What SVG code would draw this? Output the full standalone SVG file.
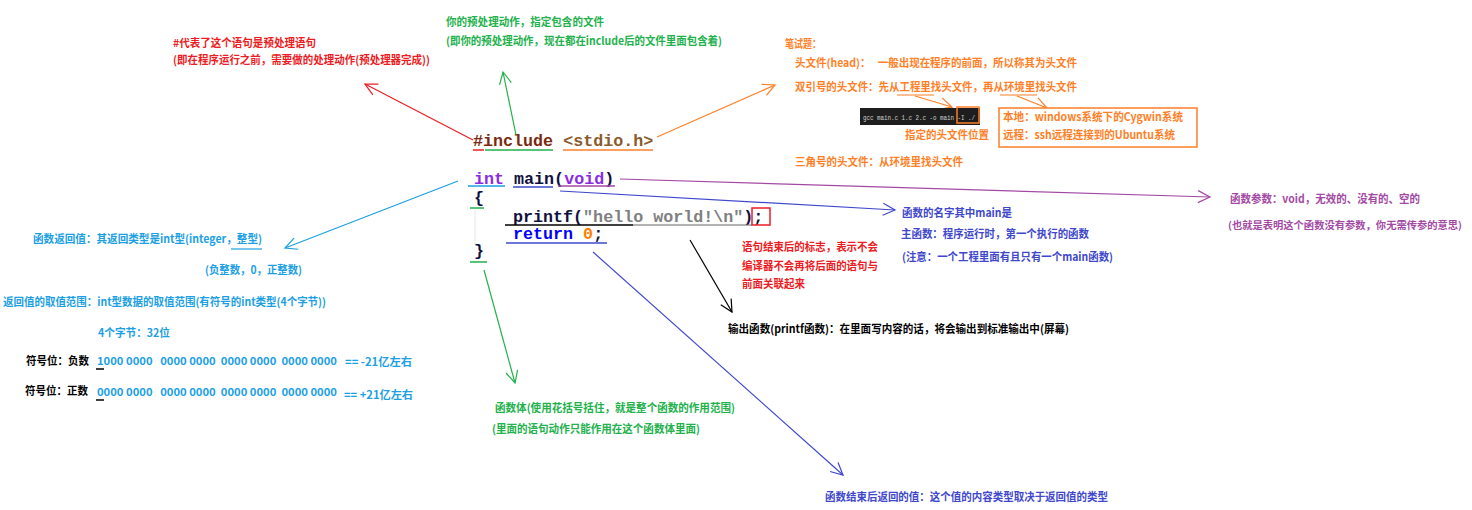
<svg xmlns="http://www.w3.org/2000/svg" width="1472" height="510" viewBox="0 0 1472 510">
<style>
.t{font-family:"Noto Sans CJK SC","Microsoft YaHei",sans-serif;font-size:11px;font-weight:bold}
.c{font-family:"Liberation Mono","Courier New",monospace;font-size:16.7px;font-weight:bold}
.red{fill:#ed1c24}.org{fill:#ff7f27}.grn{fill:#22b14c}.cyn{fill:#1ca0e3}.ind{fill:#3f48cc}.pur{fill:#a349a4}.blk{fill:#000}
.ln{fill:none;stroke-width:1.2}
</style>
<defs>
<marker id="mr" markerUnits="userSpaceOnUse" markerWidth="16" markerHeight="16" refX="13" refY="7" orient="auto"><path d="M1,1 L13,7 L1,13" fill="none" stroke="#ed1c24" stroke-width="1.2"/></marker>
<marker id="mg" markerUnits="userSpaceOnUse" markerWidth="16" markerHeight="16" refX="13" refY="7" orient="auto"><path d="M1,1 L13,7 L1,13" fill="none" stroke="#22b14c" stroke-width="1.2"/></marker>
<marker id="mo" markerUnits="userSpaceOnUse" markerWidth="16" markerHeight="16" refX="13" refY="7" orient="auto"><path d="M1,1 L13,7 L1,13" fill="none" stroke="#ff7f27" stroke-width="1.2"/></marker>
<marker id="mc" markerUnits="userSpaceOnUse" markerWidth="16" markerHeight="16" refX="13" refY="7" orient="auto"><path d="M1,1 L13,7 L1,13" fill="none" stroke="#1ca0e3" stroke-width="1.2"/></marker>
<marker id="mi" markerUnits="userSpaceOnUse" markerWidth="16" markerHeight="16" refX="13" refY="7" orient="auto"><path d="M1,1 L13,7 L1,13" fill="none" stroke="#3f48cc" stroke-width="1.2"/></marker>
<marker id="mp" markerUnits="userSpaceOnUse" markerWidth="16" markerHeight="16" refX="13" refY="7" orient="auto"><path d="M1,1 L13,7 L1,13" fill="none" stroke="#a349a4" stroke-width="1.2"/></marker>
<marker id="mk" markerUnits="userSpaceOnUse" markerWidth="16" markerHeight="16" refX="13" refY="7" orient="auto"><path d="M1,1 L13,7 L1,13" fill="none" stroke="#000" stroke-width="1.2"/></marker>
</defs>
<rect width="1472" height="510" fill="#fff"/>

<g id="code">
<text class="c" x="473" y="146"><tspan fill="#7a2a10">#include</tspan> <tspan fill="#8b5a2b">&lt;stdio.h&gt;</tspan></text>
<line x1="473" y1="150" x2="484" y2="150" stroke="#ed1c24" stroke-width="1.5"/>
<line x1="485" y1="150" x2="553" y2="150" stroke="#22b14c" stroke-width="1.5"/>
<line x1="563" y1="150" x2="653" y2="150" stroke="#ff7f27" stroke-width="1.5"/>
<text class="c" x="474" y="184" xml:space="preserve"><tspan fill="#8a2be2">int</tspan> <tspan fill="#101040">main(</tspan><tspan fill="#8a2be2">void</tspan><tspan fill="#101040">)</tspan></text>
<line x1="468" y1="186" x2="505" y2="186" stroke="#1ca0e3" stroke-width="1.5"/>
<line x1="513" y1="187" x2="553" y2="187" stroke="#3f48cc" stroke-width="1.5"/>
<line x1="558" y1="186" x2="615" y2="186" stroke="#a349a4" stroke-width="1.5"/>
<text class="c" x="474" y="203" fill="#101040">{</text>
<line x1="470" y1="208" x2="484" y2="208" stroke="#22b14c" stroke-width="1.5"/>
<line x1="475" y1="210" x2="475" y2="245" stroke="#e6e6e6" stroke-width="1"/>
<text class="c" x="513" y="222"><tspan fill="#101040">printf(</tspan><tspan fill="#808080">"hello world!\n"</tspan><tspan fill="#101040">);</tspan></text>
<rect x="752" y="208" width="18" height="17" fill="none" stroke="#ed1c24" stroke-width="1.5"/>
<line x1="505" y1="225" x2="633" y2="225" stroke="#000" stroke-width="1.5"/>
<line x1="633" y1="225" x2="752" y2="225" stroke="#666" stroke-width="1"/>
<text class="c" x="513" y="239"><tspan fill="#0000ff">return</tspan> <tspan fill="#ff8000">0</tspan><tspan fill="#101040">;</tspan></text>
<line x1="506" y1="243" x2="607" y2="243" stroke="#3f48cc" stroke-width="1.5"/>
<text class="c" x="474" y="256" fill="#101040">}</text>
<line x1="470" y1="262" x2="487" y2="262" stroke="#22b14c" stroke-width="1.5"/>
</g>

<g id="connectors">
<line class="ln" x1="473" y1="140" x2="365" y2="84" stroke="#ed1c24" marker-end="url(#mr)"/>
<line class="ln" x1="516" y1="135" x2="503" y2="72" stroke="#22b14c" marker-end="url(#mg)"/>
<line class="ln" x1="657" y1="137" x2="775" y2="85" stroke="#ff7f27" marker-end="url(#mo)"/>
<line class="ln" x1="915" y1="96" x2="952" y2="107" stroke="#ff7f27" marker-end="url(#mo)"/>
<line class="ln" x1="1017" y1="96" x2="1047" y2="108" stroke="#ff7f27" marker-end="url(#mo)"/>
<line class="ln" x1="458" y1="181" x2="285" y2="248" stroke="#1ca0e3" marker-end="url(#mc)"/>
<line class="ln" x1="620" y1="179" x2="1210" y2="197" stroke="#a349a4" marker-end="url(#mp)"/>
<line class="ln" x1="560" y1="191" x2="895" y2="210" stroke="#3f48cc" marker-end="url(#mi)"/>
<line class="ln" x1="690" y1="240" x2="732" y2="312" stroke="#000" marker-end="url(#mk)"/>
<line class="ln" x1="484" y1="270" x2="515" y2="383" stroke="#22b14c" marker-end="url(#mg)"/>
<line class="ln" x1="593" y1="252" x2="843" y2="475" stroke="#3f48cc" marker-end="url(#mi)"/>
</g>

<g id="note-preprocess">
<text class="t red" x="173" y="47" textLength="143" lengthAdjust="spacingAndGlyphs">#代表了这个语句是预处理语句</text>
<text class="t red" x="173" y="64" textLength="257" lengthAdjust="spacingAndGlyphs">(即在程序运行之前，需要做的处理动作(预处理器完成))</text>
</g>
<g id="note-include">
<text class="t grn" x="446" y="26" textLength="158" lengthAdjust="spacingAndGlyphs">你的预处理动作，指定包含的文件</text>
<text class="t grn" x="446" y="45" textLength="276" lengthAdjust="spacingAndGlyphs">(即你的预处理动作，现在都在include后的文件里面包含着)</text>
</g>
<g id="note-header">
<text class="t org" x="785" y="48" textLength="36" lengthAdjust="spacingAndGlyphs">笔试题：</text>
<text class="t org" x="795" y="67" xml:space="preserve" textLength="282" lengthAdjust="spacingAndGlyphs">头文件(head)：   一般出现在程序的前面，所以称其为头文件</text>
<text class="t org" x="795" y="91" textLength="282" lengthAdjust="spacingAndGlyphs">双引号的头文件：先从工程里找头文件，再从环境里找头文件</text>
<line x1="897" y1="95" x2="934" y2="95" stroke="#ff7f27" stroke-width="1.2"/>
<line x1="1000" y1="95" x2="1037" y2="95" stroke="#ff7f27" stroke-width="1.2"/>
<text class="t org" x="795" y="166" textLength="168" lengthAdjust="spacingAndGlyphs">三角号的头文件：从环境里找头文件</text>
</g>
<g id="gcc-box">
<rect x="860" y="108" width="120" height="17" fill="#1e1e1e"/>
<text x="863" y="119.5" font-family="Liberation Mono,monospace" font-size="6.3" fill="#d0d0d0" xml:space="preserve" textLength="112" lengthAdjust="spacingAndGlyphs">gcc main.c 1.c 2.c -o main -I ./</text>
<rect x="957" y="107" width="22" height="16" fill="none" stroke="#ff7f27" stroke-width="1.5"/>
<text class="t org" x="905" y="139" textLength="84" lengthAdjust="spacingAndGlyphs">指定的头文件位置</text>
</g>
<g id="env-box">
<rect x="999" y="108" width="198" height="39" fill="#fff" stroke="#ff7f27" stroke-width="1.5"/>
<text class="t org" x="1003" y="121" textLength="180" lengthAdjust="spacingAndGlyphs">本地：windows系统下的Cygwin系统</text>
<text class="t org" x="1003" y="139" textLength="172" lengthAdjust="spacingAndGlyphs">远程：ssh远程连接到的Ubuntu系统</text>
</g>
<g id="note-return-type">
<text class="t cyn" x="33" y="243" textLength="229" lengthAdjust="spacingAndGlyphs">函数返回值：其返回类型是int型(integer，整型)</text>
<line x1="231" y1="249" x2="262" y2="249" stroke="#1ca0e3" stroke-width="1.2"/>
<text class="t cyn" x="205" y="274" textLength="97" lengthAdjust="spacingAndGlyphs">(负整数，0，正整数)</text>
<text class="t cyn" x="3" y="306" textLength="323" lengthAdjust="spacingAndGlyphs">返回值的取值范围：int型数据的取值范围(有符号的int类型(4个字节))</text>
<text class="t cyn" x="98" y="337" textLength="72" lengthAdjust="spacingAndGlyphs">4个字节：32位</text>
<text class="t blk" x="26" y="365" textLength="63" lengthAdjust="spacingAndGlyphs">符号位：负数</text>
<text class="t cyn" x="97" y="365" xml:space="preserve" textLength="240" lengthAdjust="spacingAndGlyphs">1000 0000   0000 0000  0000 0000  0000 0000</text>
<line x1="96" y1="369" x2="104" y2="369" stroke="#000" stroke-width="1.5"/>
<text class="t cyn" x="345" y="366" textLength="67" lengthAdjust="spacingAndGlyphs">== -21亿左右</text>
<text class="t blk" x="25" y="395" textLength="63" lengthAdjust="spacingAndGlyphs">符号位：正数</text>
<text class="t cyn" x="97" y="396" xml:space="preserve" textLength="240" lengthAdjust="spacingAndGlyphs">0000 0000   0000 0000  0000 0000  0000 0000</text>
<line x1="96" y1="400" x2="104" y2="400" stroke="#000" stroke-width="1.5"/>
<text class="t cyn" x="344" y="399" textLength="69" lengthAdjust="spacingAndGlyphs">== +21亿左右</text>
</g>
<g id="note-semicolon">
<text class="t red" x="742" y="251" textLength="136" lengthAdjust="spacingAndGlyphs">语句结束后的标志，表示不会</text>
<text class="t red" x="742" y="270" textLength="136" lengthAdjust="spacingAndGlyphs">编译器不会再将后面的语句与</text>
<text class="t red" x="742" y="288" textLength="63" lengthAdjust="spacingAndGlyphs">前面关联起来</text>
</g>
<g id="note-main">
<text class="t ind" x="902" y="217" textLength="110" lengthAdjust="spacingAndGlyphs">函数的名字其中main是</text>
<text class="t ind" x="901" y="238" textLength="188" lengthAdjust="spacingAndGlyphs">主函数：程序运行时，第一个执行的函数</text>
<text class="t ind" x="902" y="261" textLength="211" lengthAdjust="spacingAndGlyphs">(注意：一个工程里面有且只有一个main函数)</text>
</g>
<g id="note-printf">
<text class="t blk" x="728" y="333" textLength="341" lengthAdjust="spacingAndGlyphs">输出函数(printf函数)：在里面写内容的话，将会输出到标准输出中(屏幕)</text>
</g>
<g id="note-void">
<text class="t pur" x="1230" y="203" textLength="190" lengthAdjust="spacingAndGlyphs">函数参数：void，无效的、没有的、空的</text>
<text class="t pur" x="1228" y="229" font-size="10" style="font-size:10px" textLength="234" lengthAdjust="spacingAndGlyphs">(也就是表明这个函数没有参数，你无需传参的意思)</text>
</g>
<g id="note-body">
<text class="t grn" x="495" y="412" textLength="240" lengthAdjust="spacingAndGlyphs">函数体(使用花括号括住，就是整个函数的作用范围)</text>
<text class="t grn" x="492" y="433" textLength="208" lengthAdjust="spacingAndGlyphs">(里面的语句动作只能作用在这个函数体里面)</text>
</g>
<g id="note-return">
<text class="t ind" x="825" y="501" textLength="283" lengthAdjust="spacingAndGlyphs">函数结束后返回的值：这个值的内容类型取决于返回值的类型</text>
</g>
</svg>
